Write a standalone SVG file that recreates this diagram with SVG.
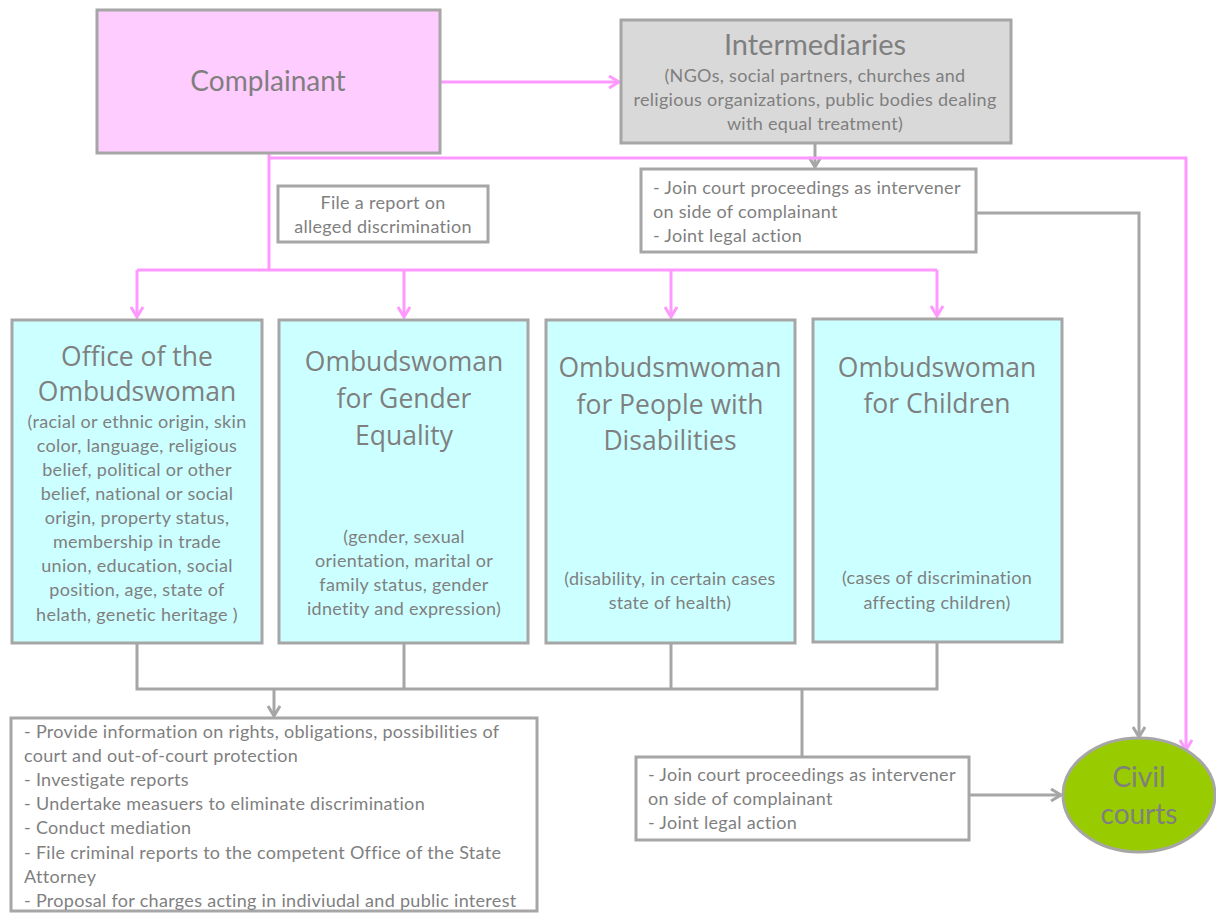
<svg xmlns="http://www.w3.org/2000/svg" width="1216" height="913" viewBox="0 0 1216 913">
<defs>
<marker id="ap" markerUnits="userSpaceOnUse" viewBox="0 0 14 14" refX="12" refY="7" markerWidth="14" markerHeight="14" orient="auto"><path d="M2,1 L12,7 L2,13" fill="none" stroke="#FF99FF" stroke-width="3"/></marker>
<marker id="ag" markerUnits="userSpaceOnUse" viewBox="0 0 14 14" refX="12" refY="7" markerWidth="14" markerHeight="14" orient="auto"><path d="M2,1 L12,7 L2,13" fill="none" stroke="#A6A6A6" stroke-width="3"/></marker>
<style>
.box{stroke:#A6A6A6;stroke-width:3}
.pk{fill:#FFCCFF}.gr{fill:#D9D9D9}.cy{fill:#CCFFFF}.wh{fill:#FFFFFF}.gn{fill:#99CC00}
text{font-family:Lato,"Open Sans","Liberation Sans",sans-serif;fill:#7F7F7F}
.t{font-size:26.5px;text-anchor:middle;font-family:"Open Sans",Lato,"Liberation Sans",sans-serif}
.h{font-size:28px;text-anchor:middle}
.b{font-size:18px;letter-spacing:0.3px;text-anchor:middle}
.l{font-size:18px;letter-spacing:0.3px}
.cp{fill:none;stroke:#FF99FF;stroke-width:3}
.cg{fill:none;stroke:#A6A6A6;stroke-width:3}
</style>
</defs>
<g id="connectors">
<path class="cp" d="M440,82 H619" marker-end="url(#ap)"/>
<path class="cg" d="M815,143 V167" marker-end="url(#ag)"/>
<path class="cp" d="M269,153 V270"/>
<path class="cp" d="M269,158 H1186 V750" marker-end="url(#ap)"/>
<path class="cp" d="M137,270 H937"/>
<path class="cp" d="M137,270 V317" marker-end="url(#ap)"/>
<path class="cp" d="M404,270 V317" marker-end="url(#ap)"/>
<path class="cp" d="M671,270 V317" marker-end="url(#ap)"/>
<path class="cp" d="M937,270 V316" marker-end="url(#ap)"/>
<path class="cg" d="M976,213 H1139 V737" marker-end="url(#ag)"/>
<path class="cg" d="M137,643 V689 H937 V642"/>
<path class="cg" d="M404,643 V689"/>
<path class="cg" d="M671,643 V689"/>
<path class="cg" d="M274,689 V716" marker-end="url(#ag)"/>
<path class="cg" d="M802,689 V756"/>
<path class="cg" d="M969,795 H1061" marker-end="url(#ag)"/>
</g>
<g id="complainant">
<rect class="box pk" x="97" y="10" width="343" height="143"/>
<text class="h" x="268" y="91">Complainant</text>
</g>
<g id="intermediaries">
<rect class="box gr" x="621" y="20" width="390" height="123"/>
<text class="h" x="815" y="55" style="font-size:29px">Intermediaries</text>
<text class="b" x="815" y="82">(NGOs, social partners, churches and</text>
<text class="b" x="815" y="106">religious organizations, public bodies dealing</text>
<text class="b" x="815" y="130">with equal treatment)</text>
</g>
<g id="file-report">
<rect class="box wh" x="278" y="186" width="210" height="56"/>
<text class="b" x="383" y="209">File a report on</text>
<text class="b" x="383" y="233">alleged discrimination</text>
</g>
<g id="intermediaries-actions">
<rect class="box wh" x="641" y="169" width="335" height="83"/>
<text class="l" x="653" y="194">- Join court proceedings as intervener</text>
<text class="l" x="653" y="218">on side of complainant</text>
<text class="l" x="653" y="242">- Joint legal action</text>
</g>
<g id="office-ombudswoman">
<rect class="box cy" x="12" y="320" width="250" height="323"/>
<text class="t" x="137" y="366">Office of the</text>
<text class="t" x="137" y="401">Ombudswoman</text>
<text class="b" x="137" y="428">(racial or ethnic origin, skin</text>
<text class="b" x="137" y="452">color, language, religious</text>
<text class="b" x="137" y="476">belief, political or other</text>
<text class="b" x="137" y="500">belief, national or social</text>
<text class="b" x="137" y="524">origin, property status,</text>
<text class="b" x="137" y="548">membership in trade</text>
<text class="b" x="137" y="572">union, education, social</text>
<text class="b" x="137" y="596">position, age, state of</text>
<text class="b" x="137" y="621">helath, genetic heritage )</text>
</g>
<g id="ombudswoman-gender">
<rect class="box cy" x="279" y="320" width="249" height="323"/>
<text class="t" x="404" y="371">Ombudswoman</text>
<text class="t" x="404" y="408">for Gender</text>
<text class="t" x="404" y="445">Equality</text>
<text class="b" x="404" y="543">(gender, sexual</text>
<text class="b" x="404" y="567">orientation, marital or</text>
<text class="b" x="404" y="591">family status, gender</text>
<text class="b" x="404" y="615">idnetity and expression)</text>
</g>
<g id="ombudswoman-disabilities">
<rect class="box cy" x="546" y="320" width="249" height="323"/>
<text class="t" x="670" y="377">Ombudsmwoman</text>
<text class="t" x="670" y="414">for People with</text>
<text class="t" x="670" y="450">Disabilities</text>
<text class="b" x="670" y="585">(disability, in certain cases</text>
<text class="b" x="670" y="609">state of health)</text>
</g>
<g id="ombudswoman-children">
<rect class="box cy" x="813" y="319" width="249" height="323"/>
<text class="t" x="937" y="377">Ombudswoman</text>
<text class="t" x="937" y="413">for Children</text>
<text class="b" x="937" y="584">(cases of discrimination</text>
<text class="b" x="937" y="609">affecting children)</text>
</g>
<g id="ombudsman-actions">
<rect class="box wh" x="11" y="718" width="526" height="193"/>
<text class="l" x="24" y="738">- Provide information on rights, obligations, possibilities of</text>
<text class="l" x="24" y="762">court and out-of-court protection</text>
<text class="l" x="24" y="786">- Investigate reports</text>
<text class="l" x="24" y="810">- Undertake measuers to eliminate discrimination</text>
<text class="l" x="24" y="834">- Conduct mediation</text>
<text class="l" x="24" y="859">- File criminal reports to the competent Office of the State</text>
<text class="l" x="24" y="883">Attorney</text>
<text class="l" x="24" y="907">- Proposal for charges acting in indiviudal and public interest</text>
</g>
<g id="ombudsman-court-actions">
<rect class="box wh" x="636" y="757" width="333" height="83"/>
<text class="l" x="648" y="781">- Join court proceedings as intervener</text>
<text class="l" x="648" y="805">on side of complainant</text>
<text class="l" x="648" y="829">- Joint legal action</text>
</g>
<g id="civil-courts">
<ellipse class="box gn" cx="1139" cy="795" rx="76" ry="57"/>
<text class="h" x="1139" y="787">Civil</text>
<text class="h" x="1139" y="824">courts</text>
</g>
</svg>
